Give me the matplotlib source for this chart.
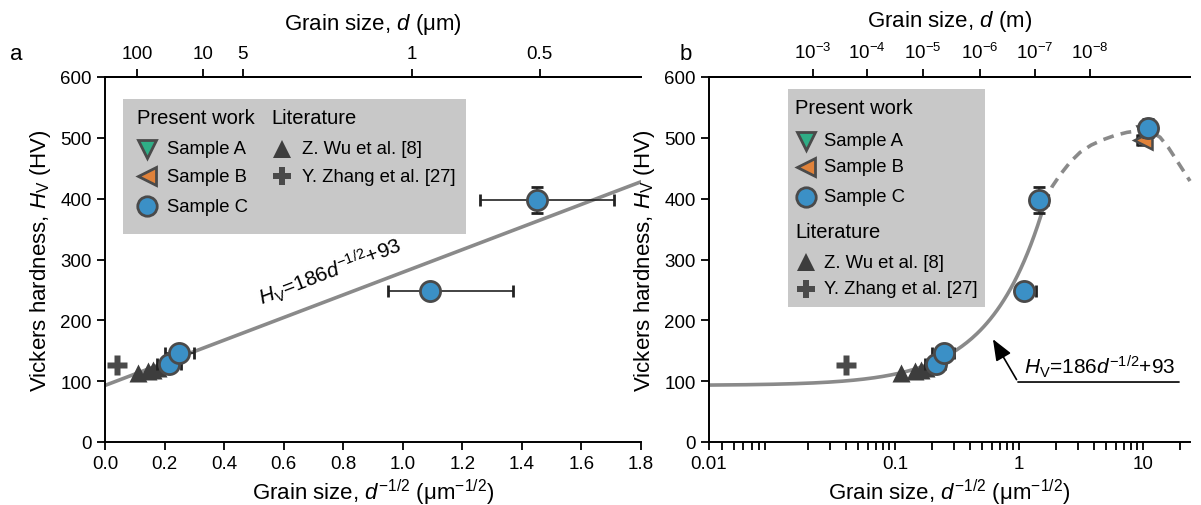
import matplotlib
matplotlib.use("Agg")
import numpy as np
import matplotlib.pyplot as plt
from matplotlib.patches import Rectangle

plt.rcParams['font.family'] = 'Liberation Sans'
plt.rcParams['mathtext.fontset'] = 'custom'
plt.rcParams['mathtext.rm'] = 'Liberation Sans'
plt.rcParams['mathtext.it'] = 'Liberation Sans:italic'
plt.rcParams['font.size'] = 13

# data: x = d^-1/2 (um^-1/2), y = Vickers hardness (HV)
sampleA_x = [10.5]
sampleA_y = [505]
sampleA_xerr = [1.0]
sampleA_yerr = [8]

sampleB_x = [10.0]
sampleB_y = [496]
sampleB_xerr = [1.0]
sampleB_yerr = [8]

sampleC_x = [0.215, 0.25, 1.09, 1.45, 11.0]
sampleC_y = [128, 146, 248, 398, 516]
sampleC_xerr_lo = [0.04, 0.05, 0.14, 0.19, 1.5]
sampleC_xerr_hi = [0.04, 0.05, 0.28, 0.26, 1.5]
sampleC_yerr = [10, 12, 8, 22, 15]

wu_x = [0.112, 0.144, 0.162, 0.178]
wu_y = [113, 116, 119, 122]

zhang_x = [0.04]
zhang_y = [126]

# Hall-Petch fit Hv = k*d^-1/2 + b
fit_k = 186
fit_b = 93
fit_end = 1.6

# extrapolated (dashed) part of the curve in panel b
dash_x = [1.6, 1.85, 2.14, 2.58, 3.1, 3.81, 4.76, 5.94, 7.43, 9.46, 11.4, 13.7, 16.0, 18.8, 23.9]
dash_y = [391, 420, 439, 460, 476, 488, 497, 504, 509, 512, 511, 501, 484, 462, 429]

# top axes (grain size d)
top_a_pos = [0.107, 0.329, 0.463, 1.03, 1.46]
top_a_lab = ['100', '10', '5', '1', '0.5']
top_b_pos = [10**-1.661, 10**-1.226, 10**-0.774, 10**-0.315, 10**0.129, 10**0.573]
top_b_lab = [r'$10^{-3}$', r'$10^{-4}$', r'$10^{-5}$', r'$10^{-6}$', r'$10^{-7}$', r'$10^{-8}$']

colA = '#2fae86'
colB = '#e0823a'
colC = '#3b90c6'
edge = '#4a4a4a'
lit = '#3d3d3d'
fitcol = '#8a8a8a'

fig = plt.figure(figsize=(12.01, 5.06), dpi=100)
axa = fig.add_axes([105/1201, 63/506, 536/1201, 365/506])
axb = fig.add_axes([709/1201, 63/506, 481/1201, 365/506])


def draw_points(ax):
    ax.plot(zhang_x, zhang_y, 'P', color='#4a4a4a', ms=14, mec='none', zorder=3, clip_on=False)
    ax.plot(wu_x, wu_y, '^', color=lit, ms=12.5, mec='none', zorder=4)
    ax.errorbar(sampleA_x, sampleA_y, xerr=sampleA_xerr, yerr=sampleA_yerr, fmt='v',
                color='#222222', mfc=colA, mec=edge, mew=1.8, ms=13, capsize=4, elinewidth=1.2, zorder=5)
    ax.errorbar(sampleB_x, sampleB_y, xerr=sampleB_xerr, yerr=sampleB_yerr, fmt='<',
                color='#222222', mfc=colB, mec=edge, mew=1.8, ms=13, capsize=4, elinewidth=1.2, zorder=6)
    ax.errorbar(sampleC_x, sampleC_y, xerr=[sampleC_xerr_lo, sampleC_xerr_hi], yerr=sampleC_yerr, fmt='o',
                color='#222222', mfc=colC, mec=edge, mew=2, ms=14.5, capsize=4.5, elinewidth=1.2, zorder=7)


def style_axes(ax):
    ax.spines['right'].set_visible(False)
    for s in ['left', 'bottom', 'top']:
        ax.spines[s].set_linewidth(1.4)
    ax.tick_params(which='both', direction='out', length=6, width=1.3, labelsize=13.5)
    ax.set_ylim(0, 600)
    ax.set_yticks([0, 100, 200, 300, 400, 500, 600])
    ax.set_ylabel(r'Vickers hardness, $H_\mathrm{V}$ (HV)', fontsize=16, labelpad=5)


def box_legend(ax, box, heads, rows, to_ax):
    x0, y0 = to_ax(box[0], box[1])
    x1, y1 = to_ax(box[2], box[3])
    ax.add_patch(Rectangle((x0, y1), x1 - x0, y0 - y1, transform=ax.transAxes,
                           facecolor='#c8c8c8', edgecolor='none', zorder=8, clip_on=False))
    for (px, py, txt) in heads:
        x, y = to_ax(px, py)
        ax.text(x, y, txt, transform=ax.transAxes, fontsize=14.5, va='center', ha='left', zorder=9)
    for (mx, tx, py, mk, fc, ec, ms, txt) in rows:
        x, y = to_ax(mx, py)
        ax.plot([x], [y], mk, transform=ax.transAxes, mfc=fc, mec=ec, mew=2 if ec != 'none' else 0,
                ms=ms, zorder=9, clip_on=False)
        x, y = to_ax(tx, py)
        ax.text(x, y, txt, transform=ax.transAxes, fontsize=13.3, va='center', ha='left', zorder=9)


def top_axis(ax, log, xlim, pos, lab, title):
    t = ax.twiny()
    if log:
        t.set_xscale('log')
    t.set_xlim(*xlim)
    t.set_xticks(pos)
    t.set_xticklabels(lab)
    t.xaxis.set_minor_locator(matplotlib.ticker.NullLocator())
    t.tick_params(direction='out', length=6, width=1.3, labelsize=13.5, pad=4.5)
    for s in ['right', 'left', 'bottom']:
        t.spines[s].set_visible(False)
    t.spines['top'].set_linewidth(1.4)
    t.set_xlabel(title, fontsize=16, labelpad=12)
    return t


# ---- panel a ----
draw_points(axa)
xs = np.array([0, 1.8])
axa.plot(xs, fit_k * xs + fit_b, color=fitcol, lw=2.6, zorder=2)
axa.set_xlim(0, 1.8)
axa.set_xticks(np.arange(0, 1.81, 0.2))
axa.set_xticklabels(['%.1f' % v for v in np.arange(0, 1.81, 0.2)])
style_axes(axa)
axa.set_xlabel(r'Grain size, $d^{-1/2}$ (μm$^{-1/2}$)', fontsize=16, labelpad=3)
axa.text(0.755, 282, r'$H_\mathrm{V}$=186$d^{-1/2}$+93', rotation=21, ha='center', va='center',
         fontsize=15, rotation_mode='anchor')

top_axis(axa, False, (0, 1.8), top_a_pos, top_a_lab, r'Grain size, $d$ (μm)')


def to_ax_a(px, py):
    return (px - 105) / 536, (443 - py) / 365


box_legend(axa, (123, 100, 466, 235),
           [(137, 119, 'Present work'), (271, 119, 'Literature')],
           [(147, 167, 150, 'v', colA, edge, 13.5, 'Sample A'),
            (147, 167, 177, '<', colB, edge, 13.5, 'Sample B'),
            (147, 167, 207, 'o', colC, edge, 14, 'Sample C'),
            (282, 302, 150, '^', lit, 'none', 13, 'Z. Wu et al. [8]'),
            (282, 302, 177, 'P', '#4a4a4a', 'none', 13, 'Y. Zhang et al. [27]')],
           to_ax_a)

# ---- panel b ----
axb.set_xscale('log')
draw_points(axb)
xs = np.logspace(-2.5, np.log10(fit_end), 200)
axb.plot(xs, fit_k * xs + fit_b, color=fitcol, lw=2.6, zorder=2)
axb.plot(dash_x, dash_y, color=fitcol, lw=2.6, ls=(0, (3, 2)), zorder=2, clip_on=False)
axb.set_xlim(10**-2.5, 23.9)
axb.set_xticks([10**-2.5, 0.1, 1, 10])
axb.set_xticklabels(['0.01', '0.1', '1', '10'])
axb.xaxis.set_minor_locator(matplotlib.ticker.LogLocator(base=10, subs=np.arange(2, 10), numticks=20))
axb.xaxis.set_minor_formatter(matplotlib.ticker.NullFormatter())
style_axes(axb)
axb.set_xlabel(r'Grain size, $d^{-1/2}$ (μm$^{-1/2}$)', fontsize=16, labelpad=3)

axb.annotate('', xy=(0.60, 173), xytext=(0.98, 98.6),
             arrowprops=dict(arrowstyle='-|>,head_length=1.0,head_width=0.4', color='black', lw=1.2))
axb.annotate('', xy=(19.5, 98.6), xytext=(0.98, 98.6),
             arrowprops=dict(arrowstyle='-', color='black', lw=1.2, shrinkA=0, shrinkB=0))
axb.text(1.1, 103, r'$H_\mathrm{V}$=186$d^{-1/2}$+93', fontsize=15, ha='left', va='bottom')

top_axis(axb, True, (10**-2.5, 23.9), top_b_pos, top_b_lab, r'Grain size, $d$ (m)')


def to_ax_b(px, py):
    return (px - 709) / 481, (443 - py) / 365


box_legend(axb, (788, 90, 985, 308),
           [(795, 109, 'Present work'), (795, 232, 'Literature')],
           [(806, 824, 142, 'v', colA, edge, 13.5, 'Sample A'),
            (806, 824, 168, '<', colB, edge, 13.5, 'Sample B'),
            (806, 824, 198, 'o', colC, edge, 14, 'Sample C'),
            (806, 824, 263, '^', lit, 'none', 13, 'Z. Wu et al. [8]'),
            (806, 824, 290, 'P', '#4a4a4a', 'none', 13, 'Y. Zhang et al. [27]')],
           to_ax_b)

fig.text(10 / 1201, 1 - 55 / 506, 'a', fontsize=16, va='center')
fig.text(680 / 1201, 1 - 55 / 506, 'b', fontsize=16, va='center')

fig.savefig('out.png', dpi=100)
